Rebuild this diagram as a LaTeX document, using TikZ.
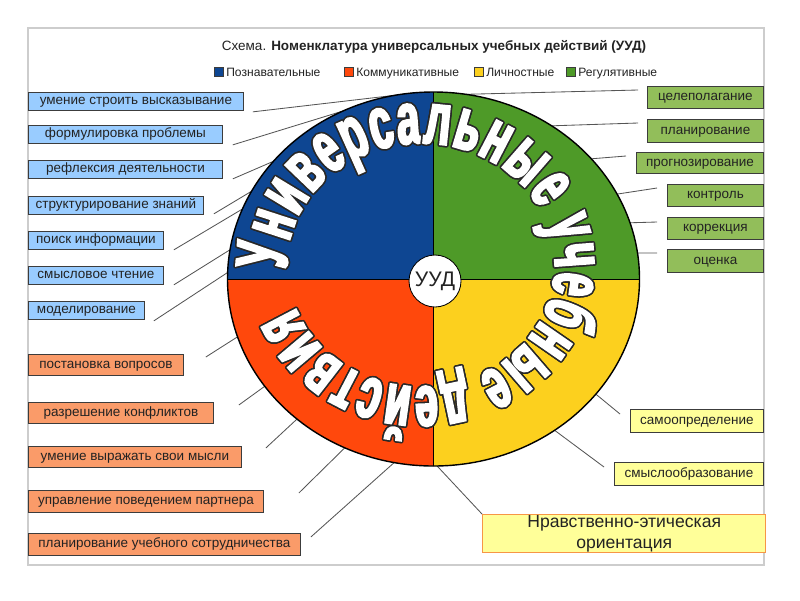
\documentclass[tikz,border=0pt]{standalone}
\usepackage{fontspec}
\setmainfont{Liberation Sans}
\newfontfamily\bigfam[FakeStretch=0.56, FakeBold=3]{Liberation Sans}
\usepackage{contour}
\contourlength{1.1pt}
\usetikzlibrary{decorations.text}
\definecolor{ublue}{RGB}{14,70,146}
\definecolor{ugreen}{RGB}{78,154,40}
\definecolor{uorange}{RGB}{255,72,12}
\definecolor{uyellow}{RGB}{252,208,30}
\definecolor{lbblue}{RGB}{153,204,255}
\definecolor{lbgreen}{RGB}{146,190,90}
\definecolor{lborange}{RGB}{250,155,105}
\definecolor{lbyellow}{RGB}{255,255,153}
\definecolor{boxline}{RGB}{60,60,60}
\definecolor{labtext}{RGB}{35,35,35}
\definecolor{connc}{RGB}{85,85,85}
\definecolor{framec}{RGB}{205,205,205}
\definecolor{outl}{RGB}{40,40,40}
\newcommand\uudchar[1]{\contour{outl}{#1}}
\tikzset{
  sz/.style 2 args={minimum width=#1*0.025cm, minimum height=#2*0.025cm},
  lab/.style={draw=boxline, line width=0.6pt, anchor=north west, inner sep=0pt,
    text height=7pt, text depth=2pt,
    font=\fontsize{9.6}{11}\selectfont, text=labtext},
  bluebox/.style={lab, fill=lbblue},
  greenbox/.style={lab, fill=lbgreen},
  orangebox/.style={lab, fill=lborange},
  yellowbox/.style={lab, fill=lbyellow},
  conn/.style={draw=connc, line width=0.6pt},
  legsq/.style={draw=boxline, line width=0.4pt, minimum size=9*0.025cm, inner sep=0pt},
  legtxt/.style={anchor=base west, inner sep=0pt, font=\fontsize{8.6}{10}\selectfont, text=labtext},
}
\begin{document}
\begin{tikzpicture}[x=0.025cm, y=-0.025cm]
\useasboundingbox (0,0) rectangle (800,600);
\draw[framec, line width=0.9pt] (28,28) rectangle (764,565);
\coordinate (c) at (433.5,279);
\coordinate (tc) at (421,265);

% title and legend
\node[font=\fontsize{9.6}{11}\selectfont, text=labtext] (title) at (434,47)
  {Схема. \textbf{Номенклатура универсальных учебных действий (УУД)}};
\node[legsq, fill=ublue] (k1) at (219,72) {};
\node[legtxt] (k1t) at (226,76) {Познавательные};
\node[legsq, fill=uorange] (k2) at (349,72) {};
\node[legtxt] (k2t) at (356,76) {Коммуникативные};
\node[legsq, fill=uyellow] (k3) at (479,72) {};
\node[legtxt] (k3t) at (486,76) {Личностные};
\node[legsq, fill=ugreen] (k4) at (571,72) {};
\node[legtxt] (k4t) at (578,76) {Регулятивные};

% boxes left (blue)
\node[bluebox, sz={215}{18}] (L1) at (28,92) {умение строить высказывание};
\node[bluebox, sz={194}{18}] (L2) at (28,125) {формулировка проблемы};
\node[bluebox, sz={194}{18}] (L3) at (28,160) {рефлексия деятельности};
\node[bluebox, sz={175}{18}] (L4) at (28,196) {структурирование знаний};
\node[bluebox, sz={135}{18}] (L5) at (28,231) {поиск информации};
\node[bluebox, sz={135}{18}] (L6) at (28,266) {смысловое чтение};
\node[bluebox, sz={116}{18}] (L7) at (28,301) {моделирование};
% boxes left (orange)
\node[orangebox, sz={155}{21}] (O1) at (28,354) {постановка вопросов};
\node[orangebox, sz={185}{21}] (O2) at (28,402) {разрешение конфликтов};
\node[orangebox, sz={213}{21}] (O3) at (28,446) {умение выражать свои мысли};
\node[orangebox, sz={235}{22}] (O4) at (28,490) {управление поведением партнера};
\node[orangebox, sz={272}{22}] (O5) at (28,533) {планирование учебного сотрудничества};
% boxes right (green)
\node[greenbox, sz={116}{22}] (G1) at (647,86) {целеполагание};
\node[greenbox, sz={116}{23}] (G2) at (647,119) {планирование};
\node[greenbox, sz={127}{21}] (G3) at (636,152) {прогнозирование};
\node[greenbox, sz={96}{22}] (G4) at (667,184) {контроль};
\node[greenbox, sz={96}{22}] (G5) at (667,217) {коррекция};
\node[greenbox, sz={96}{23}] (G6) at (667,249) {оценка};
% boxes right (yellow)
\node[yellowbox, sz={133}{23}] (Y1) at (630,409) {самоопределение};
\node[yellowbox, sz={149}{23}] (Y2) at (614,462) {смыслообразование};
\node[lab, fill=lbyellow, draw={rgb,255:red,247;green,150;blue,70}, line width=1pt, sz={283}{38},
  align=center, text height=, text depth=, font=\fontsize{12.5}{15}\selectfont] (Y3) at (482,514)
  {Нравственно-этическая\\ориентация};

% connector start points
\coordinate (sL1) at ([shift={(9,1)}]L1.south east);
\coordinate (sL2) at ([shift={(10,1)}]L2.south east);
\coordinate (sL3) at ([shift={(10,0)}]L3.south east);
\coordinate (sL4) at ([shift={(10,-1)}]L4.south east);
\coordinate (sL5) at ([shift={(10,0)}]L5.south east);
\coordinate (sL6) at ([shift={(10,0)}]L6.south east);
\coordinate (sL7) at ([shift={(9,1)}]L7.south east);
\coordinate (sO1) at ([shift={(22,3)}]O1.north east);
\coordinate (sO2) at ([shift={(25,3)}]O2.north east);
\coordinate (sO3) at ([shift={(24,2)}]O3.north east);
\coordinate (sO4) at ([shift={(35,3)}]O4.north east);
\coordinate (sO5) at ([shift={(10,4)}]O5.north east);
\coordinate (sG1) at ([shift={(-9,4)}]G1.north west);
\coordinate (sG2) at ([shift={(-9,4)}]G2.north west);
\coordinate (sG3) at ([shift={(-10,4)}]G3.north west);
\coordinate (sG4) at ([shift={(-10,4)}]G4.north west);
\coordinate (sG5) at ([shift={(-10,5)}]G5.north west);
\coordinate (sG6) at ([shift={(-10,4)}]G6.north west);
\coordinate (sY1) at ([shift={(-10,5)}]Y1.north west);
\coordinate (sY2) at ([shift={(-10,5)}]Y2.north west);
\coordinate (sY3) at (Y3.north west);
% connector end points on the circle
\path (c) ++(-94:206 and 187) coordinate (eL1);
\path (c) ++(-116:206 and 187) coordinate (eL2);
\path (c) ++(-141:206 and 187) coordinate (eL3);
\path (c) ++(-152:206 and 187) coordinate (eL4);
\path (c) ++(-158:206 and 187) coordinate (eL5);
\path (c) ++(-171:206 and 187) coordinate (eL6);
\path (c) ++(-178:206 and 187) coordinate (eL7);
\path (c) ++(162:206 and 187) coordinate (eO1);
\path (c) ++(145:206 and 187) coordinate (eO2);
\path (c) ++(131.5:206 and 187) coordinate (eO3);
\path (c) ++(115.5:206 and 187) coordinate (eO4);
\path (c) ++(101:206 and 187) coordinate (eO5);
\path (c) ++(-81:206 and 187) coordinate (eG1);
\path (c) ++(-55:206 and 187) coordinate (eG2);
\path (c) ++(-40:206 and 187) coordinate (eG3);
\path (c) ++(-27:206 and 187) coordinate (eG4);
\path (c) ++(-17.5:206 and 187) coordinate (eG5);
\path (c) ++(-8:206 and 187) coordinate (eG6);
\path (c) ++(38:206 and 187) coordinate (eY1);
\path (c) ++(54:206 and 187) coordinate (eY2);
\path (c) ++(89:206 and 187) coordinate (eY3);

\foreach \n in {L1,L2,L3,L4,L5,L6,L7,O1,O2,O3,O4,O5,G1,G2,G3,G4,G5,G6,Y1,Y2,Y3}
  \draw[conn] (s\n) -- (e\n);

% wheel
\begin{scope}
  \clip (c) ellipse[x radius=206, y radius=187];
  \fill[ublue] (c) rectangle ++(-210,-190);
  \fill[ugreen] (c) rectangle ++(210,-190);
  \fill[uorange] (c) rectangle ++(-210,190);
  \fill[uyellow] (c) rectangle ++(210,190);
  \draw[black, line width=0.6pt] ([yshift=-190*0.025cm]c) -- ([yshift=190*0.025cm]c);
  \draw[black, line width=0.6pt] ([xshift=-210*0.025cm]c) -- ([xshift=210*0.025cm]c);
\end{scope}
\draw[black, line width=1pt] (c) ellipse[x radius=206, y radius=187];

\path[decorate, decoration={text effects along path,
    text={Универсальные учебные действия},
    text effects/.cd,
      fit text to path,
      characters={text=white, anchor=base, inner sep=0pt, transform shape,
        font=\bigfam\bfseries\fontsize{52}{56}\selectfont},
      character command=\uudchar}]
  (tc) ++(-182:134 and 122) arc[start angle=-182, end angle=160, x radius=134, y radius=122];

\node[circle, draw=black, line width=0.6pt, fill=white, minimum size=52*0.025cm, inner sep=0pt,
  font=\fontsize{15}{17}\selectfont, text=labtext] (uud) at (435,281) {УУД};
\end{tikzpicture}
\end{document}
